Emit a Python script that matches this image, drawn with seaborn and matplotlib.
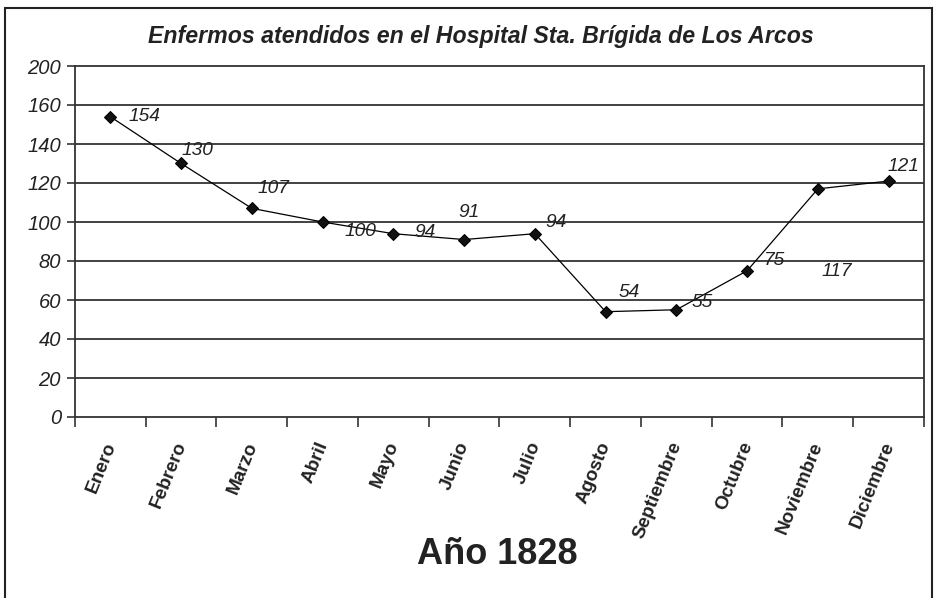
import matplotlib
matplotlib.use("Agg")
import matplotlib.pyplot as plt
import seaborn as sns
import pandas as pd
from matplotlib.patches import Rectangle

months = ["Enero", "Febrero", "Marzo", "Abril", "Mayo", "Junio", "Julio",
          "Agosto", "Septiembre", "Octubre", "Noviembre", "Diciembre"]
patients = [154, 130, 107, 100, 94, 91, 94, 54, 55, 75, 117, 121]
ytick_values = [0, 20, 40, 60, 80, 100, 120, 140, 160, 180]
ytick_labels = ["0", "20", "40", "60", "80", "100", "120", "140", "160", "200"]
title = "Enfermos atendidos en el Hospital Sta. Brígida de Los Arcos"
xlabel = "Año 1828"

# label offsets (pixels) – style only
label_offsets = [(34, 0), (16, 13), (22, 20), (38, -9), (32, 1), (5, 27),
                 (21, 11), (24, 19), (26, 7), (27, 10), (19, -83), (15, 15)]

sns.set_theme(style="white")
plt.rcParams['font.family'] = ['Liberation Sans', 'DejaVu Sans']

df = pd.DataFrame({"pos": list(range(len(months))), "val": patients})

fig = plt.figure(figsize=(9.34, 5.98), dpi=100)
ax = fig.add_axes([75/934, 1-417/598, (924-75)/934, (417-66)/598])

sns.lineplot(data=df, x="pos", y="val", ax=ax, color="black", linewidth=0.9,
             marker="D", markersize=6.2, markeredgecolor="black",
             markerfacecolor="#111111")

ax.set_xlim(-0.5, len(months) - 0.5)
ax.set_ylim(0, 180)
ax.set_yticks(ytick_values)
ax.set_yticklabels(ytick_labels, fontstyle="italic", fontsize=14.5, color="#222222")
for v in ytick_values[1:-1]:
    ax.axhline(v, color="#333333", linewidth=1.3, zorder=0)

# month labels placed slightly left of the category centre (Excel-like look)
ax.set_xticks([i - 0.1 for i in range(len(months))])
ax.set_xticklabels(months, rotation=68, ha="right", va="top",
                   rotation_mode="anchor", fontweight="bold",
                   fontsize=13.6, color="#222222")
ax.set_xticks([i - 0.5 for i in range(len(months) + 1)], minor=True)
ax.tick_params(axis="x", which="major", length=0, pad=16)
ax.tick_params(axis="x", which="minor", length=7, width=1.2, color="#333333", direction="out", bottom=True)
ax.tick_params(axis="y", which="major", length=6, width=1.2, color="#333333", direction="out", left=True, pad=4)

for sp in ax.spines.values():
    sp.set_color("#333333")
    sp.set_linewidth(1.3)
    sp.set_visible(True)

ax.set_xlabel("")
ax.set_ylabel("")

for i, (v, off) in enumerate(zip(patients, label_offsets)):
    ax.annotate(str(v), (i, v), xytext=off, textcoords="offset pixels",
                ha="center", va="center", fontstyle="italic", fontsize=13.8,
                color="#222222")

fig.text(481/934, 1-36/598, title, ha="center", va="center",
         fontweight="bold", fontstyle="italic", fontsize=16.7, color="#222222")
fig.text(497/934, 1-555/598, xlabel, ha="center", va="center",
         fontweight="bold", fontsize=26, color="#222222")

fig.patches.append(Rectangle((5/934, -0.05), (932-5)/934, 1.05-8/598,
                             transform=fig.transFigure, fill=False,
                             edgecolor="#222222", linewidth=1.5))

fig.savefig("out.png", dpi=100)
